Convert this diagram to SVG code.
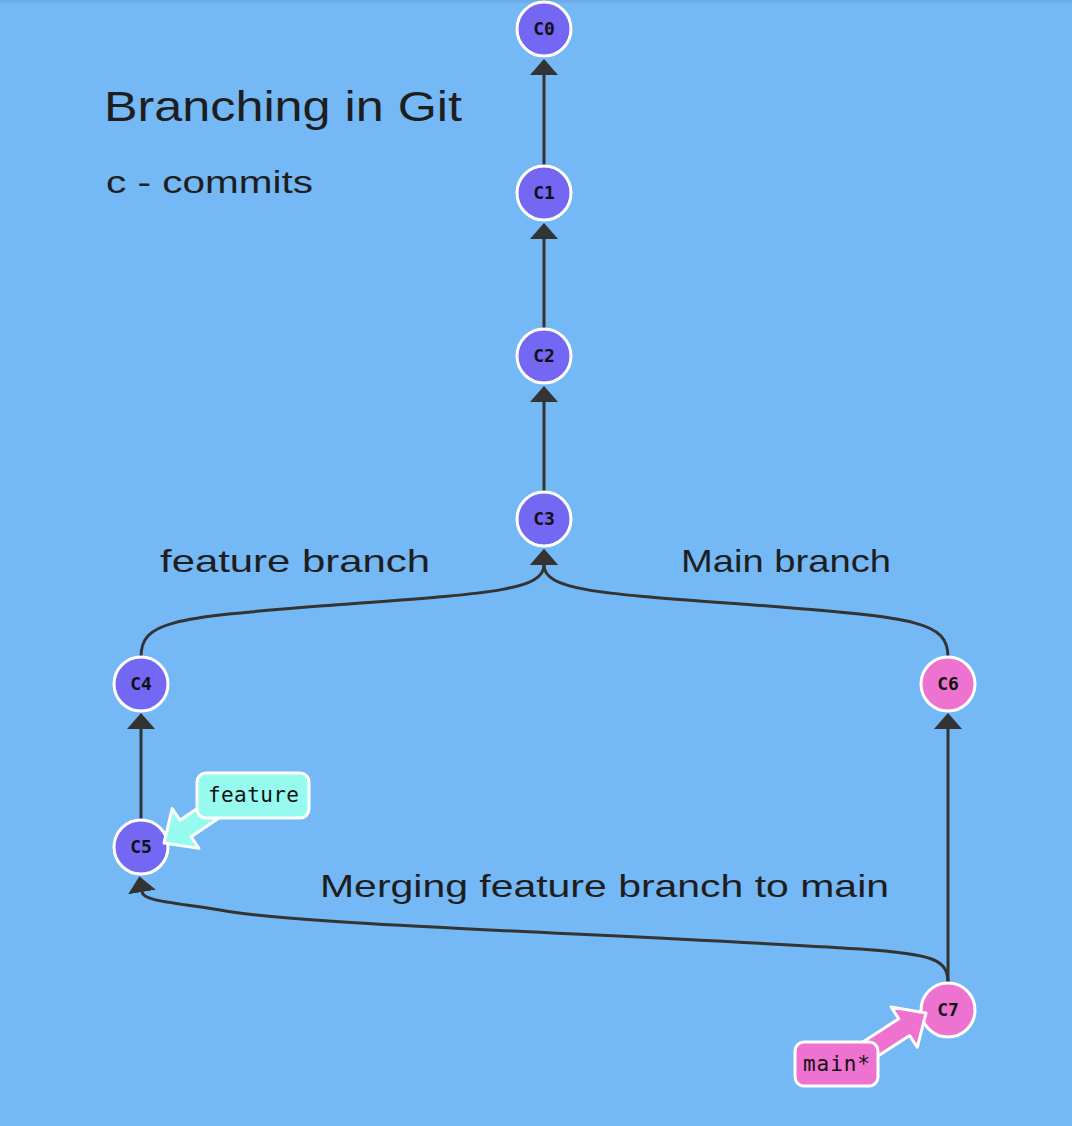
<svg xmlns="http://www.w3.org/2000/svg" width="1072" height="1126" viewBox="0 0 1072 1126">
<defs>
<marker id="ah" markerUnits="userSpaceOnUse" markerWidth="20" markerHeight="32" refX="0" refY="0" viewBox="0 -16 20 32" orient="auto">
<path d="M0,-14 L16,0 L0,14 Z" fill="#333333"/>
</marker>
<linearGradient id="topShade" x1="0" y1="0" x2="0" y2="1">
<stop offset="0" stop-color="#6aa8e0"/>
<stop offset="1" stop-color="#74b8f5"/>
</linearGradient>
<style>
.edge{fill:none;stroke:#333333;stroke-width:3;marker-end:url(#ah)}
.node circle{stroke:#ffffff;stroke-width:3}
.purple circle{fill:#7367f4}
.pink circle{fill:#ee72cf}
.node text{font-family:"DejaVu Sans Mono","Liberation Mono",monospace;font-weight:bold;font-size:18px;fill:#111111;text-anchor:middle}
.hand{font-family:"Liberation Sans",Arial,sans-serif;fill:#1e1e1e}
.tag rect,.tag polygon{stroke:#ffffff;stroke-width:3;stroke-linejoin:round}
.tag text{font-family:"DejaVu Sans Mono","Liberation Mono",monospace;font-size:21px;fill:#111111}
</style>
</defs>
<rect x="0" y="0" width="1072" height="1126" fill="#74b8f5"/>
<rect x="0" y="0" width="1072" height="4" fill="url(#topShade)"/>

<g id="labels">
<text class="hand" x="104" y="121" font-size="42" textLength="358" lengthAdjust="spacingAndGlyphs">Branching in Git</text>
<text class="hand" x="106" y="193" font-size="32" textLength="207" lengthAdjust="spacingAndGlyphs">c - commits</text>
<text class="hand" x="160" y="572" font-size="32" textLength="270" lengthAdjust="spacingAndGlyphs">feature branch</text>
<text class="hand" x="681" y="572" font-size="32" textLength="210" lengthAdjust="spacingAndGlyphs">Main branch</text>
<text class="hand" x="320" y="897" font-size="32" textLength="569" lengthAdjust="spacingAndGlyphs">Merging feature branch to main</text>
</g>

<g id="connectors">
<path class="edge" d="M544,166 L544,75"/>
<path class="edge" d="M544,329 L544,239"/>
<path class="edge" d="M544,492 L544,402"/>
<path class="edge" d="M141,657 C141,622 170,618 320,606 C480,594 544,592 544,565"/>
<path class="edge" d="M948,657 C948,622 918,618 768,606 C608,594 544,592 544,565"/>
<path class="edge" d="M141,820 L141,729"/>
<path class="edge" d="M948,983 L948,729"/>
<path class="edge" d="M948,983 C948,960 935,954 860,949 C600,933 300,925 220,910 C170,902 143.5,901 142,892"/>
</g>

<g id="C0" class="node purple"><circle cx="544" cy="29" r="27"/><text x="544" y="35">C0</text></g>
<g id="C1" class="node purple"><circle cx="544" cy="193" r="27"/><text x="544" y="199">C1</text></g>
<g id="C2" class="node purple"><circle cx="544" cy="356" r="27"/><text x="544" y="362">C2</text></g>
<g id="C3" class="node purple"><circle cx="544" cy="519" r="27"/><text x="544" y="525">C3</text></g>
<g id="C4" class="node purple"><circle cx="141" cy="684" r="27"/><text x="141" y="690">C4</text></g>
<g id="C5" class="node purple"><circle cx="141" cy="847" r="27"/><text x="141" y="853">C5</text></g>
<g id="C6" class="node pink"><circle cx="948" cy="684" r="27"/><text x="948" y="690">C6</text></g>
<g id="C7" class="node pink"><circle cx="948" cy="1010" r="27"/><text x="948" y="1016">C7</text></g>

<g id="feature-tag" class="tag">
<polygon fill="#96fbee" transform="translate(164,843) rotate(146)" points="0,0 -26,-24 -26,-10 -66,-10 -66,10 -26,10 -26,24"/>
<rect x="197" y="773" width="112" height="45" rx="9" fill="#96fbee"/>
<text x="208" y="802" textLength="91">feature</text>
</g>

<g id="main-tag" class="tag">
<polygon fill="#ee72cf" transform="translate(926,1013) rotate(-33)" points="0,0 -26,-24 -26,-10 -72,-10 -72,10 -26,10 -26,24"/>
<rect x="795" y="1042" width="83" height="44" rx="9" fill="#ee72cf"/>
<text x="803" y="1071" textLength="67">main*</text>
</g>
</svg>
